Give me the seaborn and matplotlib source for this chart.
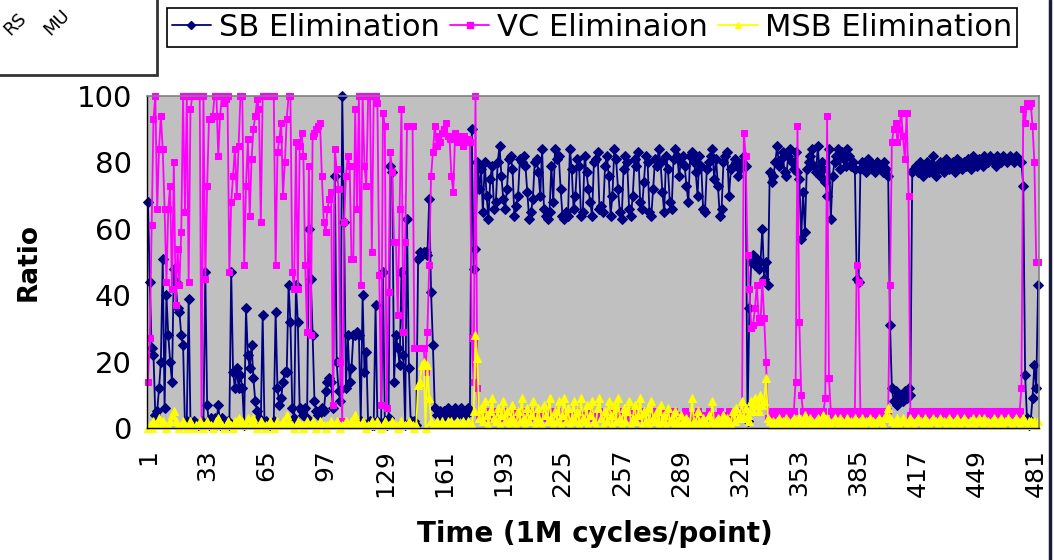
import matplotlib
matplotlib.use('Agg')
import numpy as np
import pandas as pd
import matplotlib.pyplot as plt
import seaborn as sns
from matplotlib.patches import Rectangle
from matplotlib.lines import Line2D

# values, one per point (1M cycles each)
sb = [68,44,24,22,4,5,12,20,51,6, 40,28,20,14,48,44,36,35,28,25,
      1,2,39,1,1,2,1,1,1,2, 1,47,7,1,3,2,3,1,7,1,
      3,1,1,2,1,47,17,12,18,12, 16,12,1,36,22,18,25,15,8,5,
      3,2,34,1,2,1,1,1,2,35, 12,7,9,14,17,17,43,32,6,3,
      43,32,6,5,4,6,3,60,45,28, 8,5,4,5,6,5,11,14,15,14,
      6,76,20,11,8,100,62,12,28,14, 18,28,28,29,28,2,40,17,23,1,
      2,1,1,37,2,1,1,47,2,1, 3,79,77,14,28,24,19,47,22,1,
      63,18,2,1,2,1,51,53,52,53, 53,52,69,41,25,6,4,4,5,3,
      5,4,6,4,5,4,6,4,5,6, 4,5,4,6,5,90,48,54,80,72,
      78,65,80,70,63,75,79,66,68,80, 85,76,69,66,72,81,82,78,64,67,
      70,81,80,82,79,71,63,65,69,80, 81,77,70,84,66,64,63,65,79,68,
      84,81,82,72,64,63,65,64,84,78, 66,70,81,79,64,65,82,77,72,68,
      64,80,81,83,66,67,65,79,82,76, 64,70,84,81,72,65,63,78,82,80,
      66,64,70,81,79,83,68,66,74,82, 80,65,64,72,81,79,84,80,71,65,
      82,78,68,66,81,84,82,76,80,82, 79,73,68,82,83,80,77,70,82,79,
      66,65,78,80,82,84,75,81,73,64, 66,80,82,83,70,78,79,81,80,76,
      78,80,82,79,2,36,50,52,49,51, 48,50,60,45,50,43,77,74,76,80,
      85,79,81,83,77,76,82,84,80,78, 83,77,75,57,71,59,78,80,82,84,
      79,77,85,76,80,78,74,70,84,63, 76,80,82,84,78,83,81,79,84,82,
      79,80,78,45,44,78,80,79,77,81, 80,78,79,77,80,79,78,77,80,78,
      76,31,12,8,11,7,9,10,8,11, 9,12,10,77,78,79,77,80,78,76,
      79,80,77,78,82,79,76,78,80,79, 77,81,80,78,79,80,77,81,79,80,
      78,80,79,81,80,78,82,80,79,81, 80,79,82,81,80,82,81,80,79,82,
      81,80,82,81,80,81,82,81,80,82, 81,80,80,73,16,3,1,2,9,19,
      12,43]

vc = [14,27,61,93,100,66,84,94,84,66, 44,66,73,42,80,37,54,43,59,100,
      65,100,44,96,100,100,100,100,100,1, 100,45,73,93,93,94,100,100,82,94,
      100,98,99,100,47,68,76,84,70,85, 100,100,49,73,87,64,81,90,94,99,
      96,62,100,100,100,100,100,100,100,49, 83,87,92,70,80,93,100,100,47,42,
      86,42,85,89,82,49,29,79,28,88, 89,90,91,92,76,62,59,66,69,71,
      7,84,78,72,20,2,62,76,82,79, 51,51,96,66,100,43,100,79,73,100,
      100,53,100,100,98,46,7,95,91,6, 41,83,77,56,56,34,66,96,29,56,
      91,91,91,91,24,24,24,24,24,24, 17,29,49,76,83,91,85,88,86,89,
      90,92,88,87,76,71,89,86,88,87, 85,88,86,87,86,27,14,100,12,4,
      4,3,4,5,3,4,4,3,5,4, 3,4,4,5,3,3,4,4,5,3,
      4,4,3,5,4,3,4,5,4,3, 4,3,5,4,4,3,4,4,5,3,
      4,5,3,4,4,3,5,4,3,4, 4,3,4,5,4,3,4,4,3,5,
      4,3,4,4,5,3,4,3,4,4, 5,4,3,4,4,3,5,4,4,3,
      4,4,5,3,4,4,3,4,5,4, 3,4,4,5,4,3,4,4,3,5,
      4,3,4,4,5,3,4,4,3,4, 5,4,3,4,4,3,4,5,4,3,
      4,4,3,5,4,4,3,4,4,5, 3,4,4,3,5,4,4,3,4,4,
      5,4,89,82,52,42,30,31,36,43, 33,32,44,33,20,3,4,5,4,5,
      4,4,5,4,5,4,5,4,4,5, 14,91,32,10,5,4,5,4,5,4,
      5,4,4,5,4,5,9,94,15,5, 4,5,4,5,5,4,5,4,5,4,
      5,4,5,49,44,4,5,4,5,5, 4,5,4,5,4,5,4,4,5,4,
      5,43,86,90,92,86,90,95,88,81, 95,70,4,5,4,5,4,5,5,4,
      5,4,5,5,4,5,4,5,5,4, 5,4,5,5,4,5,5,4,5,5,
      4,5,5,4,5,4,5,5,4,5, 5,4,5,5,4,5,4,5,5,4,
      5,4,5,5,4,5,5,4,5,5, 4,5,12,96,92,98,97,98,91,80,
      50,50]

msb = [0,1,0,2,1,1,3,1,2,1, 0,1,2,4,5,2,1,0,1,2,
       1,0,1,2,1,0,1,1,2,1, 0,1,2,1,1,0,1,2,3,1,
       1,0,1,2,1,1,0,2,1,3, 1,2,1,1,3,1,2,3,1,0,
       1,2,1,0,1,1,2,1,0,1, 2,1,1,2,1,4,2,1,1,0,
       1,2,1,1,0,1,2,1,1,2, 1,0,1,2,1,1,0,1,1,2,
       1,1,2,1,0,1,1,2,1,1, 2,1,4,2,1,1,2,1,0,1,
       1,2,1,1,2,1,0,1,2,1, 1,1,2,1,1,0,1,2,1,1,
       1,2,1,1,0,1,13,14,19,20, 0,19,9,2,1,1,2,1,1,2,
       1,1,2,1,2,1,1,2,1,1, 2,1,1,2,1,1,5,28,21,3,
       6,2,8,4,1,5,9,3,2,6, 1,4,8,2,5,1,3,7,2,1,
       5,2,9,3,1,6,2,4,8,1, 3,6,2,1,7,4,2,9,3,1,
       5,2,8,1,4,9,2,6,1,3, 8,2,5,1,9,3,2,7,1,4,
       8,2,1,6,9,3,1,5,2,8, 4,1,7,2,9,3,1,6,2,5,
       8,1,3,7,2,4,9,1,5,2, 6,1,8,3,2,5,1,7,2,4,
       1,6,2,3,1,5,2,1,4,2, 1,3,2,1,9,2,1,5,2,1,
       3,2,1,4,2,8,1,2,3,1, 2,4,1,3,2,1,5,2,6,3,
       4,8,3,6,4,2,8,5,9,7, 5,10,7,8,15,3,2,1,2,1,
       2,3,1,2,1,3,2,1,2,3, 1,2,3,2,1,4,2,1,3,2,
       1,2,3,1,2,4,1,3,2,1, 2,3,2,1,3,2,1,2,3,1,
       2,1,3,2,1,2,3,1,2,2, 3,1,2,1,2,3,2,1,3,4,
       6,3,2,1,2,3,1,2,3,2, 1,2,3,2,1,2,3,2,2,1,
       3,2,1,2,3,2,2,1,3,2, 2,1,2,3,2,1,2,3,2,1,
       2,3,2,1,2,2,3,1,2,3, 2,1,3,2,2,1,2,3,2,1,
       2,3,1,2,2,3,2,1,2,3, 2,1,2,3,2,1,2,2,1,2,
       1,2]

assert len(sb) == len(vc) == len(msb), (len(sb), len(vc), len(msb))
n = len(sb)
t = list(range(1, n + 1))
tick_labels = [str(v) for v in range(1, n + 1, 32)]

df = pd.DataFrame({'t': t, 'SB Elimination': sb, 'VC Eliminaion': vc, 'MSB Elimination': msb})

sns.set_style('white')
plt.rcParams['font.family'] = ['DejaVu Sans']
plt.rcParams.update({'text.color': 'black', 'axes.labelcolor': 'black',
                     'xtick.color': 'black', 'ytick.color': 'black'})

W, H = 1054, 560
fig = plt.figure(figsize=(W / 100, H / 100), dpi=100)
ax = fig.add_axes([147 / W, 1 - 428 / H, (1039 - 147) / W, (428 - 96) / H])
ax.set_facecolor('#C0C0C0')

styles = [('SB Elimination', '#000080', 'D', 5.5),
          ('VC Eliminaion', '#FF00FF', 's', 5),
          ('MSB Elimination', '#FFFF00', '^', 6)]
for name, col, mk, ms in styles:
    sns.lineplot(data=df, x='t', y=name, ax=ax, color=col, marker=mk, markersize=ms,
                 markeredgecolor=col, markerfacecolor=col, linewidth=1.3,
                 clip_on=False, legend=False)

ax.set_xlim(0.5, n + 0.5)
ax.set_ylim(0, 100)
ax.set_xticks(range(1, n + 1, 32))
ax.set_xticklabels(tick_labels, rotation=90, fontsize=18)
ax.set_xticks(np.arange(0.5, n + 1, 1), minor=True)
ax.tick_params(axis='x', which='major', length=0, pad=15)
ax.tick_params(axis='x', which='minor', length=6, width=0.8, color='black', direction='out')
ax.set_yticks([0, 20, 40, 60, 80, 100])
ax.tick_params(axis='y', which='major', length=5, width=1, color='black', labelsize=21, pad=6, direction='out')

for side in ['top', 'right']:
    ax.spines[side].set_color('#808080')
    ax.spines[side].set_linewidth(1.2)
for side in ['left', 'bottom']:
    ax.spines[side].set_color('black')
    ax.spines[side].set_linewidth(1)

ax.set_xlabel('Time (1M cycles/point)', fontsize=20, fontweight='bold')
ax.set_ylabel('Ratio', fontsize=19, fontweight='bold')
ax.xaxis.set_label_coords((595 - 147) / 892, -(520 - 428) / 332)
ax.yaxis.set_label_coords((42 - 147) / 892, 0.5)

handles = [Line2D([], [], color=c, marker=m, markersize=s * 0.8, markeredgecolor=c, linewidth=1.3)
           for _, c, m, s in styles]
leg = fig.legend(handles, [s[0] for s in styles], loc='center', ncol=3, mode='expand',
                 bbox_to_anchor=(167 / W, 1 - 51 / H, 850 / W, 47 / H),
                 frameon=True, fancybox=False, framealpha=1, edgecolor='black',
                 fontsize=22, handlelength=1.3, handletextpad=0.25, columnspacing=0.6,
                 borderpad=0.15, borderaxespad=0)
leg.get_frame().set_linewidth(1.2)

# neighbouring box at top-left, only partly in view
fig.patches.append(Rectangle((-0.01, 1 - 75 / H), 168 / W, 80 / H, transform=fig.transFigure,
                             facecolor='white', edgecolor='#333333', linewidth=2))
fig.text(10 / W, 1 - 36 / H, 'RS', rotation=45, rotation_mode='anchor', ha='left', va='baseline', fontsize=13)
fig.text(50 / W, 1 - 36 / H, 'MU', rotation=45, rotation_mode='anchor', ha='left', va='baseline', fontsize=13)
fig.add_artist(Line2D([1050 / W, 1050 / W], [0, 1], transform=fig.transFigure, color='#1a1a3a', linewidth=2.5))

fig.savefig('out.png', dpi=100)
